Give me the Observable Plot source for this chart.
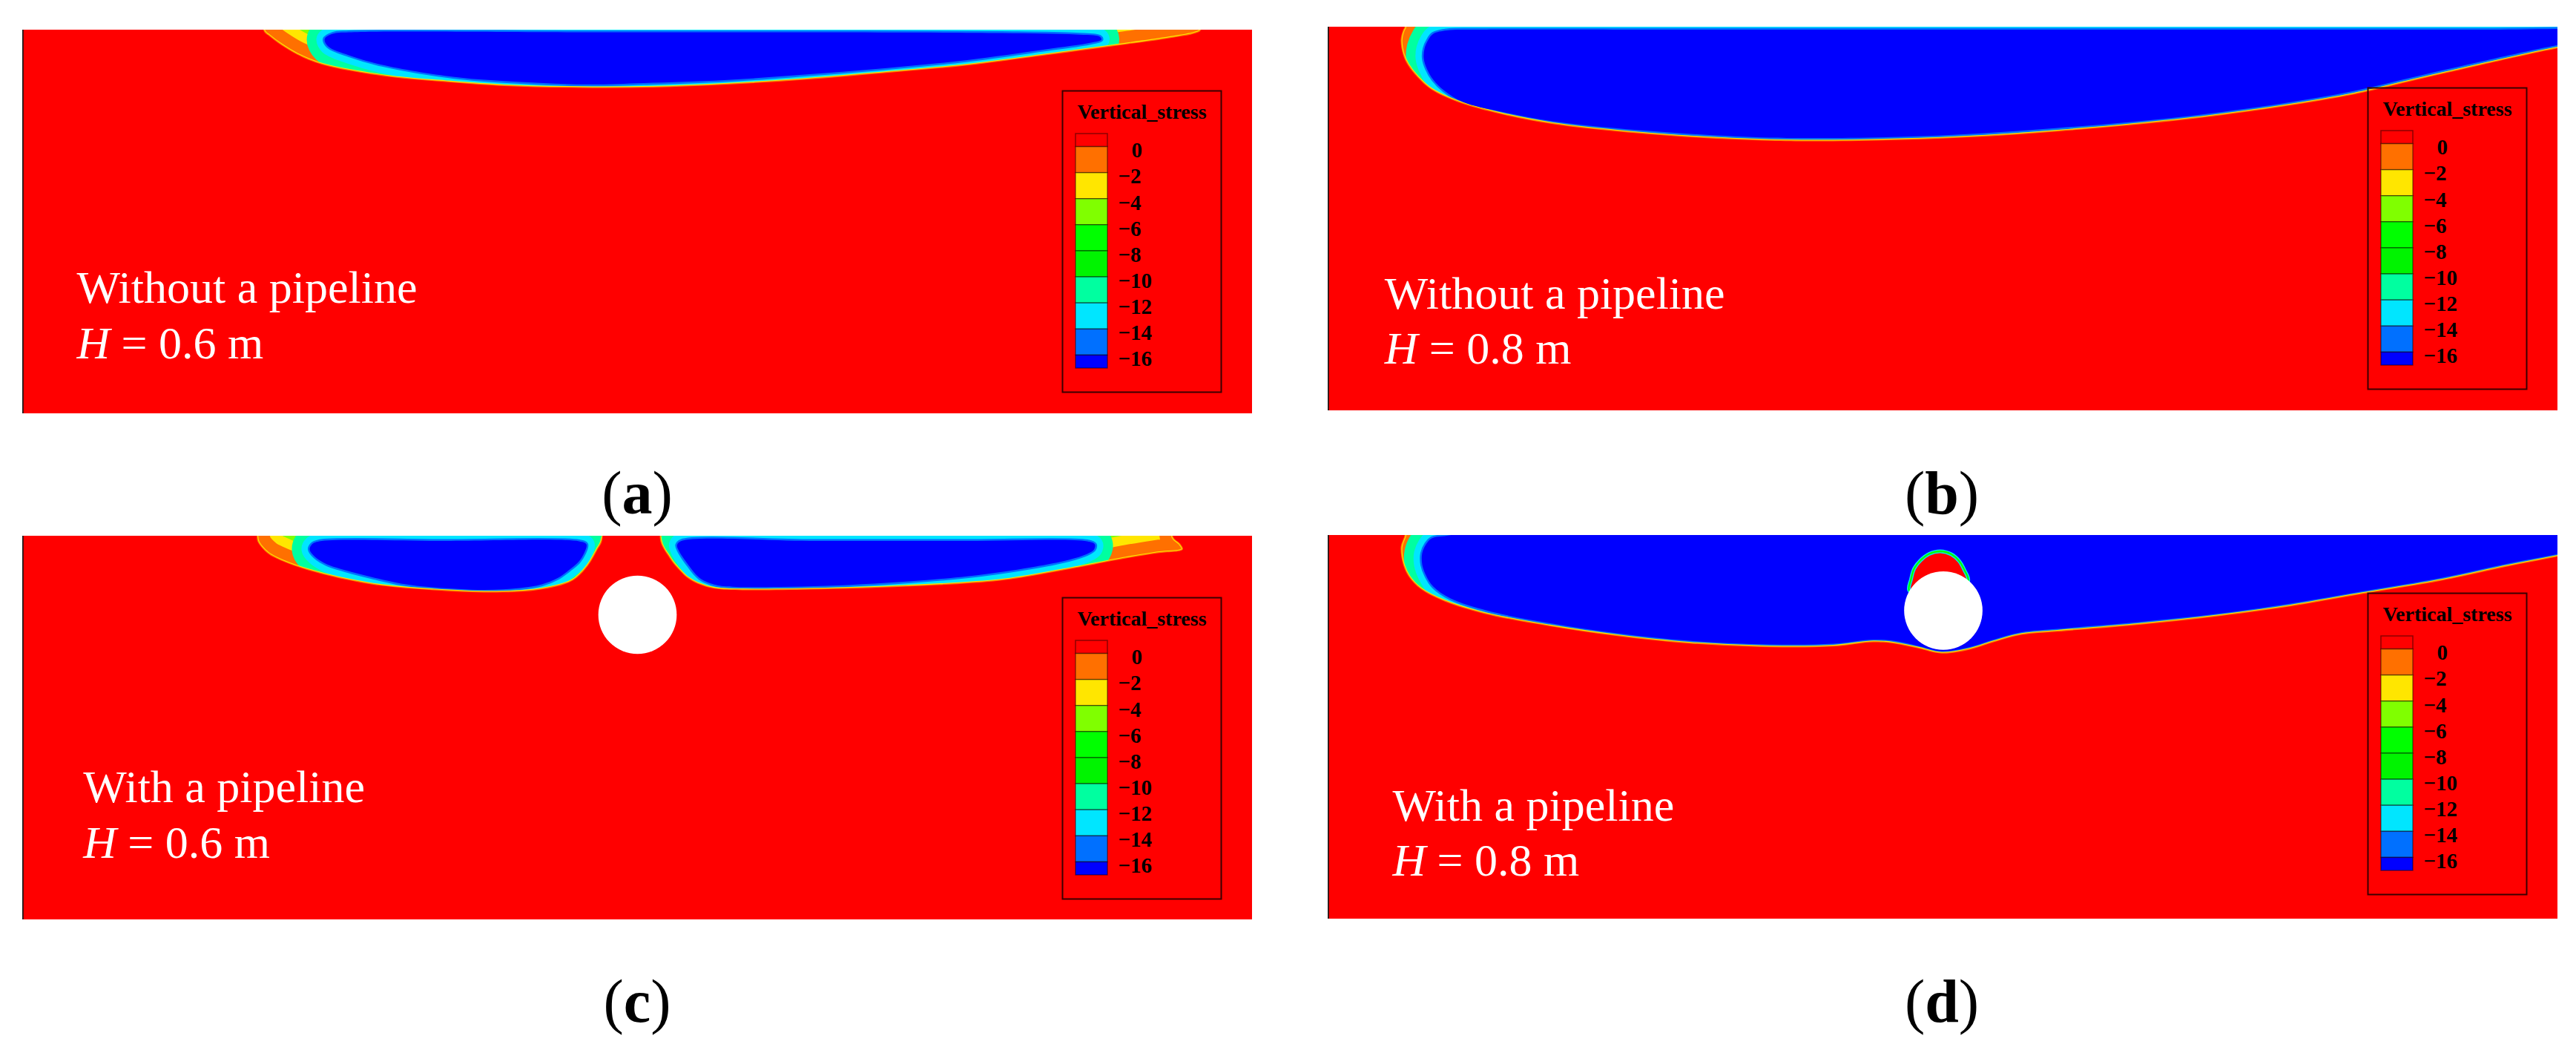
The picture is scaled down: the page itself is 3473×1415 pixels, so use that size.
<!DOCTYPE html>
<html>
<head>
<meta charset="utf-8">
<script src="https://cdn.jsdelivr.net/npm/d3@7"></script>
<script src="https://cdn.jsdelivr.net/npm/@observablehq/plot@0.6"></script>
<style>
  html, body { margin: 0; padding: 0; background: #fff; }
  #root { position: relative; width: 3473px; height: 1415px; overflow: hidden; background: #fff; }
  #root > svg, #root > div { position: absolute; }
</style>
</head>
<body>
<div id="root"></div>
<script>
// ---------------- DATA (model coordinates: x in cm, depth in cm) ----------------
const legendLevels = [0, -2, -4, -6, -8, -10, -12, -14, -16];
const legendColors = ["#FF0000", "#FF7000", "#FFE600", "#80FF00", "#00FF00", "#00F400", "#00FFA0", "#00E6FF", "#0070FF", "#0000FF"];
const legendTitle = "Vertical_stress";

const panelLetters = ["a", "b", "c", "d"];
const caseLines = ["Without a pipeline", "Without a pipeline", "With a pipeline", "With a pipeline"];
const depthValues = ["0.6", "0.8", "0.6", "0.8"];

// panel (a): outer (0 contour) and inner (-16 contour) of the tension zone
const zoneA_outer = [[62.5,-12],[62.7,0.2],[64.1,1.55],[67.2,3.87],[71.4,6.38],[78.0,9.03],[95.2,12.19],[110.0,13.54],[125.3,14.6],[144.8,15.09],[164.1,14.99],[183.4,14.22],[203.5,12.96],[224.3,11.22],[245.4,9.28],[266.2,6.58],[283.8,4.2],[297.3,2.3],[305.4,0.77],[306.6,0],[307.0,-12]];
const zoneA_blue = [[84.9,0.58],[148.6,0.58],[206.6,0.58],[254.8,0.77],[274.1,1.16],[280.3,1.74],[280.7,2.51],[278.0,3.29],[266.2,5.03],[245.4,7.87],[224.3,9.94],[203.5,11.61],[182.6,13.06],[161.6,13.83],[146.9,14.18],[129.7,13.54],[112.4,12.24],[93.4,9.03],[84.9,6.58],[79.5,4.26],[78.6,2.32],[80.7,0.97]];

// panel (b)
const zoneB_outer = [[19.9,-12],[19.9,0],[19.5,0.77],[18.9,3.35],[19.5,7.21],[20.7,9.81],[23.2,13.02],[26.8,16.25],[33.6,19.48],[45.0,22.69],[58.5,25.28],[75.3,27.21],[96.1,28.82],[114.9,29.65],[127.4,29.79],[148.3,29.46],[169.1,28.63],[189.8,27.21],[208.7,25.59],[229.5,23.35],[248.3,20.75],[267.0,17.54],[283.6,13.68],[300.4,9.81],[314.9,6.58],[319.7,5.61],[345,0.6],[345,-12]];
const zoneB_blue = [[38.6,0.68],[30.9,0.87],[27.4,1.74],[26.1,3.29],[25.1,5.61],[24.9,8.12],[25.7,10.83],[27.4,13.73],[30.1,16.44],[35.1,19.54],[45.0,22.05],[58.5,24.56],[75.3,26.40],[96.1,27.95],[114.9,28.82],[127.4,28.92],[148.3,28.63],[169.1,27.76],[189.8,26.31],[208.7,24.76],[229.5,22.53],[248.3,19.92],[267.0,16.63],[283.6,12.77],[300.4,8.90],[314.9,5.71],[319.7,4.74],[332,2.4],[342,0.68],[300,0.68],[200,0.68],[100,0.68]];

// panel (c): two zones split by the pipe
const zoneC1_outer = [[60.8,-12],[60.9,0],[61.2,1.55],[63.7,4.45],[66.0,5.80],[74.3,8.90],[90.7,12.57],[106.9,14.12],[123.4,14.70],[134.9,13.93],[143.1,11.61],[147.1,7.74],[149.6,3.48],[150.8,1.16],[151.2,-12]];
const zoneC1_blue = [[77.2,1.35],[110.0,1.26],[144.8,1.35],[146.7,2.13],[146.1,4.45],[144.6,6.77],[142.1,8.90],[139.4,10.83],[135.1,12.57],[129.3,13.54],[120.1,14.02],[106.9,13.35],[98.5,12.38],[90.7,10.64],[84.0,8.90],[79.2,7.35],[76.1,5.42],[74.7,3.48],[75.3,2.13]];
const zoneC2_outer = [[166.2,-12],[165.8,0.39],[166.2,2.13],[167.0,3.68],[167.9,5.03],[169.2,6.96],[170.9,8.90],[172.9,10.83],[175.6,12.38],[180.0,13.7],[187.3,14.1],[205.2,13.93],[229.9,13.15],[254.4,11.61],[270.8,8.90],[287.1,5.80],[295.4,4.45],[301.9,3.48],[301.2,1.93],[299.4,0.19],[299.2,-12]];
const zoneC2_blue = [[171.4,1.26],[170.3,2.32],[170.8,3.87],[172.0,5.80],[173.4,7.74],[174.9,9.67],[176.6,11.22],[179.2,12.38],[182.4,13.06],[197.1,13.25],[221.6,12.38],[246.1,10.44],[262.5,8.12],[272.2,6.19],[277.0,4.64],[278.8,3.48],[279.0,2.13],[277.0,1.35],[245.2,1.26],[206.6,1.26]];

// panel (d)
const zoneD_outer = [[19.9,-12],[19.9,0],[19.5,1.10],[18.9,3.04],[19.5,7.54],[21.0,10.77],[24.1,13.98],[30.3,17.21],[40.7,20.44],[57.5,23.66],[75.3,26.25],[94.0,28.18],[114.9,29.15],[131.5,28.96],[141.9,27.85],[147.1,28.18],[153.5,29.46],[159.7,30.8],[167.0,29.79],[173.2,27.85],[180.5,25.92],[189.8,25.09],[210.6,23.35],[231.7,21.08],[250.4,18.51],[269.1,15.28],[290.0,11.74],[306.6,8.18],[319.7,5.61],[345,0.65],[345,-12]];
const zoneD_blue = [[60,-3],[38.6,-1.16],[30.9,0.10],[27.0,0.77],[25.5,2.32],[24.5,4.64],[24.5,7.54],[25.5,10.44],[27.4,13.35],[31.9,16.44],[41.5,19.63],[57.9,22.92],[75.3,25.53],[94.0,27.47],[114.9,28.43],[131.5,28.24],[141.9,27.18],[147.1,27.47],[153.5,28.82],[159.7,30.2],[167.0,29.11],[173.2,27.18],[180.5,25.24],[189.8,24.37],[210.6,22.63],[231.7,20.41],[250.4,17.79],[269.1,14.60],[290.0,11.03],[306.6,7.45],[319.7,4.93],[340,1.0],[350,-3],[200,-3]];
const capD = [[151.2,14.31],[151.7,11.41],[152.5,8.70],[154.1,6.58],[156.4,4.84],[159.3,4.16],[162.2,4.93],[164.3,6.77],[165.6,9.09],[166.6,11.61],[165.1,15.28],[160.0,17.21],[154.4,16.25]];

const pipeC = [[160.0, 20.5]];
const pipeD = [[160.1, 19.6]];
const pipeRadius = 10.2; // cm

// ---------------- LAYOUT / STYLE ----------------
const [RED, ORANGE, YELLOW, YGREEN, GREEN, GREEN2, SPRING, CYAN, AZURE, BLUE] = legendColors;
const FONT = "'Liberation Serif','Times New Roman',Times,serif";
const PW = 1658, PH = 517, XMAX = 320, YMAX = 100;
const CURVE = "catmull-rom-closed";
const px = d => d[0], py = d => d[1];

const panels = [
  {left: 30,   top: 40,  zones: [{outer: zoneA_outer, inner: zoneA_blue}], tx: 14.1, ty1: 71.1, ty2: 85.6, legTop: 122},
  {left: 1790, top: 36,  zones: [{outer: zoneB_outer, inner: zoneB_blue}], tx: 14.7, ty1: 73.5, ty2: 87.8, legTop: 118},
  {left: 30,   top: 722, zones: [{outer: zoneC1_outer, inner: zoneC1_blue}, {outer: zoneC2_outer, inner: zoneC2_blue}], pipe: pipeC, tx: 15.8, ty1: 69.4, ty2: 83.9, legTop: 805},
  {left: 1790, top: 721, zones: [{outer: zoneD_outer, inner: zoneD_blue}], pipe: pipeD, cap: capD, tx: 16.8, ty1: 74.3, ty2: 88.6, legTop: 799}
];

function ring(data, opts) {
  return Plot.line(data, {x: px, y: py, curve: CURVE, ...opts});
}

function zoneLayers(z) {
  const m = [ring(z.outer, {fill: GREEN, stroke: "none"})];
  for (const [c, w] of [[YGREEN, 40], [YELLOW, 31], [ORANGE, 18]]) m.push(ring(z.outer, {fill: "none", stroke: c, strokeWidth: 2 * w}));
  for (const [c, w] of [[SPRING, 24], [CYAN, 11], [AZURE, 2.5]]) m.push(ring(z.inner, {fill: "none", stroke: c, strokeWidth: 2 * w}));
  for (const [c, w] of [[YELLOW, 2.3], [ORANGE, 1.2]]) m.push(ring(z.outer, {fill: "none", stroke: c, strokeWidth: 2 * w}));
  m.push(ring(z.inner, {fill: BLUE, stroke: "none"}));
  return m;
}

function maskPoly(zones) {
  const pts = [];
  for (const z of zones) pts.push(...z.outer);
  pts.push([400, -12], [400, 160], [-80, 160], [-80, -12]);
  return pts;
}

function panelPlot(p, i) {
  const txt = {fill: "white", fontFamily: FONT, fontSize: 62, textAnchor: "start", lineAnchor: "bottom"};
  const marks = [
    Plot.frame({fill: RED, stroke: "none"}),
    ...p.zones.flatMap(zoneLayers),
    ring(maskPoly(p.zones), {fill: RED, stroke: "none"})
  ];
  if (p.cap) {
    marks.push(ring(p.cap, {fill: RED, stroke: CYAN, strokeWidth: 5}));
    marks.push(ring(p.cap, {fill: "none", stroke: GREEN, strokeWidth: 2.4}));
  }
  if (p.pipe) marks.push(Plot.dot(p.pipe, {x: px, y: py, r: pipeRadius * PW / XMAX, fill: "white", stroke: "none"}));
  marks.push(
    Plot.ruleX([0], {stroke: "#1a1a1a", strokeWidth: 2.5}),
    Plot.text([caseLines[i]], {x: p.tx, y: p.ty1, text: d => d, ...txt}),
    Plot.text(["H"], {x: p.tx, y: p.ty2, text: d => d, fontStyle: "italic", ...txt}),
    Plot.text(["= " + depthValues[i] + " m"], {x: p.tx, y: p.ty2, dx: 60, text: d => d, ...txt})
  );
  const svg = Plot.plot({
    width: PW, height: PH, margin: 0,
    x: {domain: [0, XMAX], range: [0, PW], axis: null},
    y: {domain: [0, YMAX], range: [0, PH], axis: null},
    style: {background: RED, overflow: "hidden"},
    marks
  });
  svg.style.position = "absolute";
  svg.style.left = p.left + "px";
  svg.style.top = p.top + "px";
  return svg;
}

function legendPlot(left, top) {
  const swatches = legendColors.map((c, i) => ({
    top: i === 0 ? 1 : legendLevels[i - 1],
    bottom: i < legendLevels.length ? legendLevels[i] : -17,
    color: c
  }));
  const lab = {fontFamily: FONT, fontWeight: "bold", fontSize: 29, fill: "#000", textAnchor: "start", dy: 5};
  const svg = Plot.plot({
    width: 214, height: 406, margin: 0,
    x: {domain: [0, 214], range: [0, 214], axis: null},
    y: {domain: [1, -17], range: [58, 374], axis: null},
    color: {type: "identity"},
    style: {background: "transparent", overflow: "visible"},
    marks: [
      Plot.frame({stroke: "#3a0000", strokeWidth: 2}),
      Plot.rect(swatches, {x1: 18, x2: 61, y1: "top", y2: "bottom", fill: d => d.color, stroke: "#000", strokeOpacity: 0.45, strokeWidth: 1.5}),
      Plot.text([legendTitle], {frameAnchor: "top", dy: 37, lineAnchor: "bottom", text: d => d, fontFamily: FONT, fontWeight: "bold", fontSize: 28, fill: "#000"}),
      Plot.text(legendLevels.filter(v => v < 0), {x: 75, y: d => d, text: d => "\u2212" + Math.abs(d), ...lab}),
      Plot.text(legendLevels.filter(v => v === 0), {x: 93, y: d => d, text: d => String(d), ...lab})
    ]
  });
  svg.style.position = "absolute";
  svg.style.left = left + "px";
  svg.style.top = top + "px";
  return svg;
}

const root = document.getElementById("root");
panels.forEach((p, i) => {
  root.appendChild(panelPlot(p, i));
  root.appendChild(legendPlot(p.left + 1402, p.legTop));
});

// captions (a)–(d)
const capPos = [[859, 692], [2618, 692], [859, 1377], [2618, 1377]];
const cap = d3.create("svg").attr("width", 3473).attr("height", 1415)
  .style("position", "absolute").style("left", "0px").style("top", "0px").style("pointer-events", "none");
panelLetters.forEach((l, i) => {
  const t = cap.append("text").attr("x", capPos[i][0]).attr("y", capPos[i][1])
    .attr("text-anchor", "middle").attr("font-family", FONT).attr("font-size", 82).attr("fill", "#000");
  t.append("tspan").text("(");
  t.append("tspan").attr("font-weight", "bold").text(l);
  t.append("tspan").text(")");
});
root.appendChild(cap.node());
</script>
</body>
</html>
